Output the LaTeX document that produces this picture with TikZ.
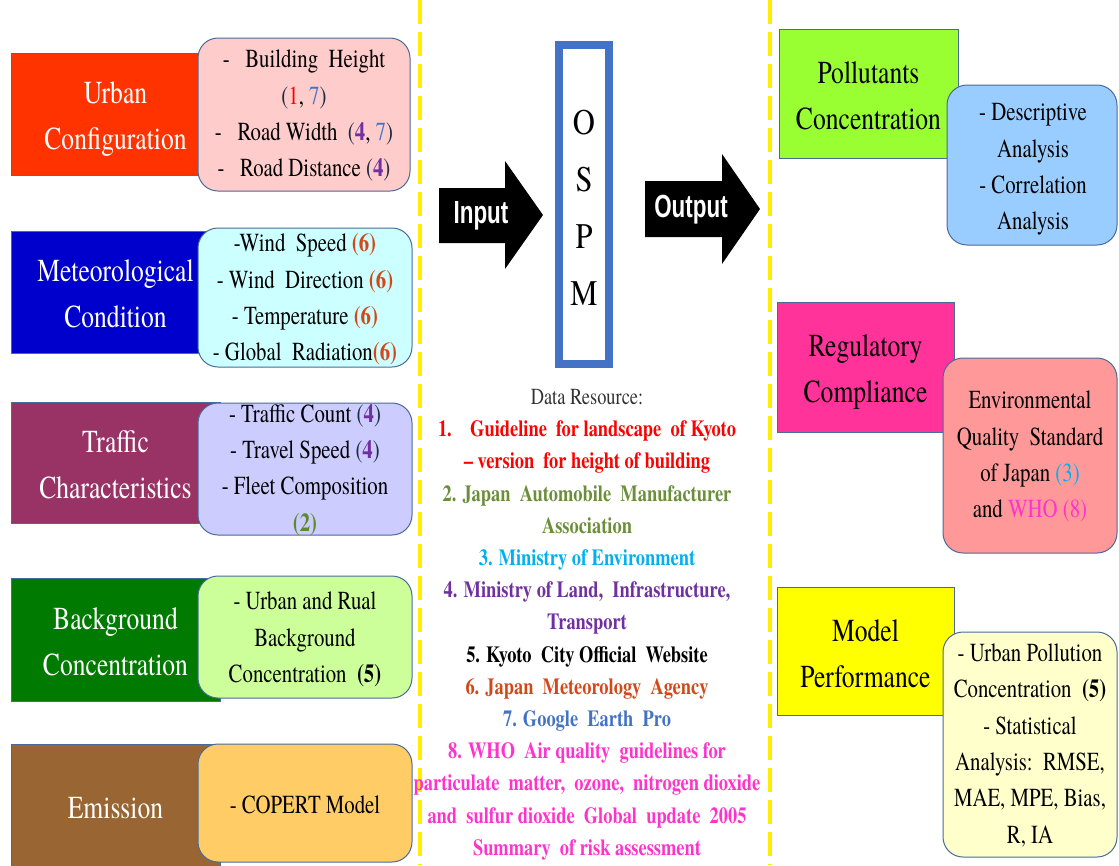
\documentclass[tikz,border=0pt]{standalone}
\usepackage{fontspec}
\usepackage{graphicx}
\setmainfont{texgyretermes}[Extension=.otf, UprightFont=*-regular, BoldFont=*-bold, ItalicFont=*-italic, BoldItalicFont=*-bolditalic]
\newfontfamily\sansb{Liberation Sans}
\definecolor{urbanred}{HTML}{FF3300}
\definecolor{metblue}{HTML}{0000CC}
\definecolor{trafcol}{HTML}{993366}
\definecolor{bggreen}{HTML}{007A00}
\definecolor{emiscol}{HTML}{996633}
\definecolor{pinkbox}{HTML}{FFCCCC}
\definecolor{cyanbox}{HTML}{CCFFFF}
\definecolor{lavbox}{HTML}{CCCCFF}
\definecolor{lgreenbox}{HTML}{CCFF99}
\definecolor{orangebox}{HTML}{FFCC66}
\definecolor{pollgreen}{HTML}{99FF33}
\definecolor{regpink}{HTML}{FF3399}
\definecolor{perfyel}{HTML}{FFFF00}
\definecolor{ltbluebox}{HTML}{99CCFF}
\definecolor{salmonbox}{HTML}{FF9999}
\definecolor{creambox}{HTML}{FFFFCC}
\definecolor{bord}{HTML}{4A6A9A}
\definecolor{ospmblue}{HTML}{4472C4}
\definecolor{yline}{HTML}{FFEE00}
\definecolor{parcol}{HTML}{1F2A44}
\definecolor{nred}{HTML}{FF0000}
\definecolor{nblue}{HTML}{4472C4}
\definecolor{npurple}{HTML}{7030A0}
\definecolor{norange}{HTML}{D2481A}
\definecolor{ngreen}{HTML}{5E8A2E}
\definecolor{ncyan}{HTML}{00B0F0}
\definecolor{nmag}{HTML}{FF33CC}
\definecolor{nolive}{HTML}{6B8E3A}
\definecolor{rgray}{HTML}{333333}
\newcommand{\Lfont}{\rmfamily\fontsize{32}{46}\selectfont}
\newcommand{\Dfont}{\rmfamily\fontsize{26}{36.3}\selectfont}
\newcommand{\Rfont}{\rmfamily\fontsize{23}{32.2}\selectfont}
\newcommand{\Ofont}{\rmfamily\fontsize{36}{57}\selectfont}
\newcommand{\Afont}{\sansb\bfseries\fontsize{32}{36}\selectfont}
\newcommand{\cz}[2][0.8]{\scalebox{#1}[1]{\begin{tabular}{@{}c@{}}#2\end{tabular}}}
\begin{document}
\begin{tikzpicture}[x=1pt,y=-1pt,
  lblbox/.style={draw=bord, line width=1pt, inner sep=0pt},
  lbltext/.style={font=\Lfont, inner sep=0pt},
  detbox/.style={draw=bord, line width=1pt, rounded corners=20pt, inner sep=0pt},
  dettext/.style={font=\Dfont, inner sep=0pt},
  sepline/.style={draw=yline, line width=4pt, dash pattern=on 24pt off 8pt},
  blockarrow/.style={fill=black},
  arrowtext/.style={font=\Afont, text=white, inner sep=0pt}
]
\useasboundingbox (0,0) rectangle (1119,865);
\fill[white] (0,0) rectangle (1119,865);

% separator lines
\draw[sepline] (420,0) -- (420,865);
\draw[sepline] (770,0) -- (770,865);

% ---------- left column ----------
\node[lblbox, fill=urbanred, minimum width=209pt, minimum height=122pt] (urban) at (115.5,114) {};
\node[lbltext, text=white] (urbanT) at (115.5,117.5) {\cz{Urban\\Configuration}};
\node[detbox, fill=pinkbox, minimum width=212pt, minimum height=153pt] (urbanD) at (304,114.5) {};
\node[dettext] (urbanDT) at (304,115)
  {\cz{-\ \ \ Building\ \ Height\\ \textcolor{parcol}{(}\textcolor{nred}{1}, \textcolor{nblue}{7}\textcolor{parcol}{)}\\ -\ \ \ Road Width\ \ \textcolor{parcol}{(}\textbf{\textcolor{npurple}{4}}, \textcolor{nblue}{7}\textcolor{parcol}{)}\\ -\ \ \ Road Distance \textcolor{parcol}{(}\textbf{\textcolor{npurple}{4}}\textcolor{parcol}{)}}};

\node[lblbox, fill=metblue, minimum width=209pt, minimum height=122pt] (met) at (115.5,292) {};
\node[lbltext, text=white] (metT) at (115.5,295.5) {\cz{Meteorological\\Condition}};
\node[detbox, fill=cyanbox, minimum width=214pt, minimum height=139pt] (metD) at (305,297.5) {};
\node[dettext] (metDT) at (305,299)
  {\cz{-Wind\ \ Speed \textbf{\textcolor{norange}{(6)}}\\ - Wind\ \ Direction \textbf{\textcolor{norange}{(6)}}\\ - Temperature \textbf{\textcolor{norange}{(6)}}\\ - Global\ \ Radiation\textbf{\textcolor{norange}{(6)}}}};

\node[lblbox, fill=trafcol, minimum width=209pt, minimum height=121pt] (traf) at (115.5,462.5) {};
\node[lbltext, text=white] (trafT) at (115.5,466) {\cz{Traffic\\Characteristics}};
\node[detbox, fill=lavbox, minimum width=214pt, minimum height=132pt] (trafD) at (305,469) {};
\node[dettext] (trafDT) at (305,469.5)
  {\cz{- Traffic Count \textcolor{parcol}{(}\textbf{\textcolor{npurple}{4}}\textcolor{parcol}{)}\\ - Travel Speed \textcolor{parcol}{(}\textbf{\textcolor{npurple}{4}}\textcolor{parcol}{)}\\ - Fleet Composition\\ \textbf{\textcolor{ngreen}{(2)}}}};

\node[lblbox, fill=bggreen, minimum width=209pt, minimum height=123pt] (bg) at (115.5,639.5) {};
\node[lbltext, text=white] (bgT) at (115.5,643.5) {\cz{Background\\Concentration}};
\node[detbox, fill=lgreenbox, minimum width=214pt, minimum height=122pt] (bgD) at (305,637) {};
\node[dettext] (bgDT) at (305,639)
  {\cz{- Urban and Rual\\ Background\\ Concentration\ \ \textbf{(5)}}};

\node[lblbox, fill=emiscol, minimum width=209pt, minimum height=122pt] (emis) at (115.5,805) {};
\node[lbltext, text=white] (emisT) at (115.5,809) {\cz{Emission}};
\node[detbox, fill=orangebox, minimum width=214pt, minimum height=118pt] (emisD) at (305,803) {};
\node[dettext] (emisDT) at (305,806) {\cz{- COPERT Model}};

% ---------- middle ----------
\fill[blockarrow] (439,188) -- (505,188) -- (505,161) -- (543,215) -- (505,269) -- (505,243) -- (439,243) -- cycle;
\node[arrowtext] (inputlbl) at (481,216) {\cz[0.7]{Input}};

\node[draw=ospmblue, line width=8pt, fill=white, minimum width=50pt, minimum height=319pt, inner sep=0pt] (ospm) at (584,204.5) {};
\node[font=\Ofont, inner sep=0pt] (ospmT) at (584,209) {\cz[0.85]{O\\S\\P\\M}};

\fill[blockarrow] (645,181) -- (722,181) -- (722,154) -- (760,209) -- (722,264) -- (722,237) -- (645,237) -- cycle;
\node[arrowtext] (outputlbl) at (691,210) {\cz[0.7]{Output}};

\node[font=\Rfont, inner sep=0pt] (res) at (587,623.5)
  {\cz{\textcolor{rgray}{Data Resource:}\\
   \textbf{\textcolor{nred}{1.\quad Guideline\ \ for landscape\ \ of Kyoto}}\\
   \textbf{\textcolor{nred}{– version\ \ for height of building}}\\
   \textbf{\textcolor{nolive}{2. Japan\ \ Automobile\ \ Manufacturer}}\\
   \textbf{\textcolor{nolive}{Association}}\\
   \textbf{\textcolor{ncyan}{3. Ministry of Environment}}\\
   \textbf{\textcolor{npurple}{4. Ministry of Land,\ \ Infrastructure,}}\\
   \textbf{\textcolor{npurple}{Transport}}\\
   \textbf{5. Kyoto\ \ City Official\ \ Website}\\
   \textbf{\textcolor{norange}{6. Japan\ \ Meteorology\ \ Agency}}\\
   \textbf{\textcolor{nblue}{7. Google\ \ Earth\ \ Pro}}\\
   \textbf{\textcolor{nmag}{8. WHO\ \ Air quality\ \ guidelines for}}\\
   \textbf{\textcolor{nmag}{particulate\ \ matter,\ \ ozone,\ \ nitrogen dioxide}}\\
   \textbf{\textcolor{nmag}{and\ \ sulfur dioxide\ \ Global\ \ update\ \ 2005}}\\
   \textbf{\textcolor{nmag}{Summary\ \ of risk assessment}}}};

% ---------- right column ----------
\node[lblbox, fill=pollgreen, minimum width=179pt, minimum height=129pt] (poll) at (868.5,93.5) {};
\node[lbltext] (pollT) at (868.5,97.5) {\cz{Pollutants\\Concentration}};
\node[detbox, fill=ltbluebox, minimum width=170pt, minimum height=160pt] (pollD) at (1032,165) {};
\node[dettext] (pollDT) at (1033,168)
  {\cz{- Descriptive\\ Analysis\\ - Correlation\\ Analysis}};

\node[lblbox, fill=regpink, minimum width=177pt, minimum height=130pt] (reg) at (865.5,367) {};
\node[lbltext] (regT) at (865.5,370.5) {\cz{Regulatory\\Compliance}};
\node[detbox, fill=salmonbox, minimum width=174pt, minimum height=195pt] (regD) at (1030,455.5) {};
\node[dettext] (regDT) at (1030,456)
  {\cz{Environmental\\ Quality\ \ Standard\\ of Japan \textcolor{ncyan}{(3)}\\ and \textcolor{nmag}{WHO (8)}}};

\node[lblbox, fill=perfyel, minimum width=177pt, minimum height=128pt] (perf) at (865.5,651) {};
\node[lbltext] (perfT) at (865.5,655) {\cz{Model\\Performance}};
\node[detbox, fill=creambox, minimum width=174pt, minimum height=225pt] (perfD) at (1030,744.5) {};
\node[dettext] (perfDT) at (1030,745)
  {\cz{- Urban Pollution\\ Concentration\ \ \textbf{(5)}\\ - Statistical\\ Analysis:\ \ RMSE,\\ MAE, MPE, Bias,\\ R, IA}};
\end{tikzpicture}
\end{document}
